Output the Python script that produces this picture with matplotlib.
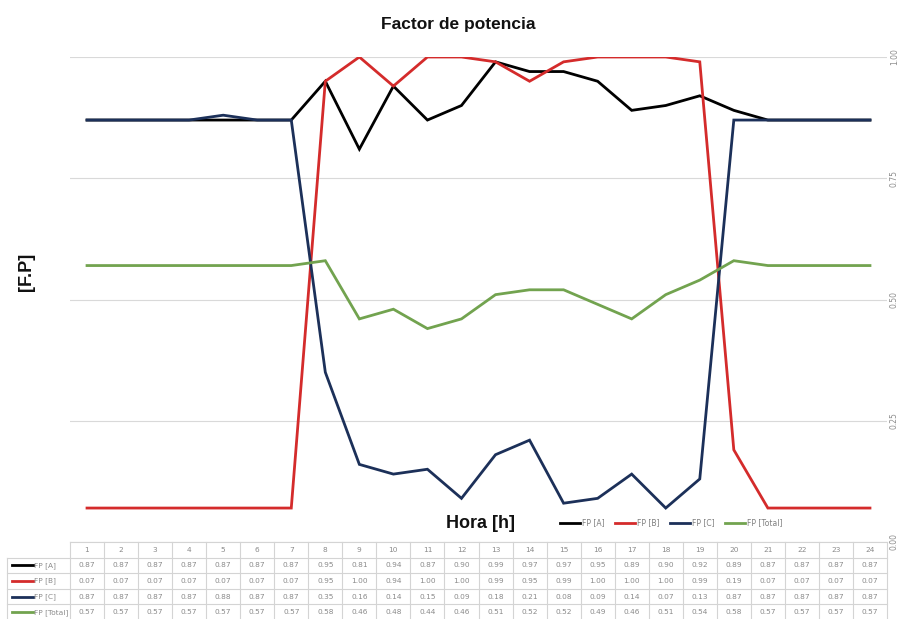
import matplotlib
matplotlib.use("Agg")
import matplotlib.pyplot as plt
from matplotlib.lines import Line2D

hours = list(range(1, 25))
fp_a = [0.87, 0.87, 0.87, 0.87, 0.87, 0.87, 0.87, 0.95, 0.81, 0.94, 0.87, 0.90,
        0.99, 0.97, 0.97, 0.95, 0.89, 0.90, 0.92, 0.89, 0.87, 0.87, 0.87, 0.87]
fp_b = [0.07, 0.07, 0.07, 0.07, 0.07, 0.07, 0.07, 0.95, 1.00, 0.94, 1.00, 1.00,
        0.99, 0.95, 0.99, 1.00, 1.00, 1.00, 0.99, 0.19, 0.07, 0.07, 0.07, 0.07]
fp_c = [0.87, 0.87, 0.87, 0.87, 0.88, 0.87, 0.87, 0.35, 0.16, 0.14, 0.15, 0.09,
        0.18, 0.21, 0.08, 0.09, 0.14, 0.07, 0.13, 0.87, 0.87, 0.87, 0.87, 0.87]
fp_total = [0.57, 0.57, 0.57, 0.57, 0.57, 0.57, 0.57, 0.58, 0.46, 0.48, 0.44, 0.46,
            0.51, 0.52, 0.52, 0.49, 0.46, 0.51, 0.54, 0.58, 0.57, 0.57, 0.57, 0.57]
series_names = ["FP [A]", "FP [B]", "FP [C]", "FP [Total]"]
series_colors = ["#000000", "#d42b2b", "#1c3059", "#72a34f"]
y_ticks = [0.00, 0.25, 0.50, 0.75, 1.00]

title = "Factor de potencia"
x_title = "Hora [h]"
y_title = "[F.P]"

W, H = 899, 619
fig = plt.figure(figsize=(W / 100, H / 100), dpi=100)
fig.patch.set_facecolor("white")

# plot area in pixel coordinates
px_left, px_right = 70, 887
px_top, px_bottom = 57, 542
row_h = 15.6
n_rows = 5


def fx(p):
    return p / W


def fy(p):
    return 1 - p / H


ax = fig.add_axes([fx(px_left), fy(px_bottom), fx(px_right - px_left),
                   (px_bottom - px_top) / H])
ax.set_xlim(0.5, 24.5)
ax.set_ylim(0, 1)
for s in ax.spines.values():
    s.set_visible(False)
ax.set_xticks([])
ax.set_yticks(y_ticks)
ax.yaxis.tick_right()
ax.set_yticklabels([f"{v:.2f}" for v in y_ticks])
ax.tick_params(axis="y", length=0, pad=2, labelsize=5.5, labelcolor="#8c8c8c",
               labelrotation=90)
for lab in ax.get_yticklabels():
    lab.set_verticalalignment("center")
ax.grid(axis="y", color="#d9d9d9", linewidth=0.8)
ax.set_axisbelow(True)

all_series = [fp_a, fp_b, fp_c, fp_total]
for vals, name, col in zip(all_series, series_names, series_colors):
    ax.plot(hours, vals, color=col, linewidth=2.0, label=name,
            solid_joinstyle="miter")

fig.text(fx(458), fy(25), title, ha="center", va="center", fontsize=12.5,
         fontweight="bold", family="Liberation Sans", color="#111111")
fig.text(fx(26), fy(272), y_title, ha="center", va="center", rotation=90,
         fontsize=13, fontweight="bold", family="Liberation Sans", color="#111111")
fig.text(fx(480), fy(523), x_title, ha="center", va="center", fontsize=13,
         fontweight="bold", family="Liberation Sans", color="#111111")

handles = [Line2D([], [], color=c, linewidth=2.0) for c in series_colors]
leg = fig.legend(handles, series_names, loc="center",
                 bbox_to_anchor=(fx(671), fy(523)), ncol=4, frameon=False,
                 fontsize=5.5, labelcolor="#7f7f7f", handlelength=2.6,
                 handletextpad=0.25, columnspacing=1.4,
                 prop={"family": "DejaVu Sans", "size": 5.5})

# data table under the plot
tab = fig.add_axes([fx(px_left), fy(px_bottom + n_rows * row_h),
                    fx(px_right - px_left), n_rows * row_h / H])
tab.set_xlim(0.5, 24.5)
tab.set_ylim(n_rows, 0)
tab.axis("off")

grid_col = "#d4d4d4"
text_col = "#8a8a8a"
units_per_px = 24 / (px_right - px_left)
lab_left = 0.5 - (px_left - 7) * units_per_px

# horizontal rules
tab.plot([0.5, 24.5], [0, 0], color=grid_col, lw=0.8, clip_on=False)
for r in range(1, n_rows + 1):
    tab.plot([lab_left, 24.5], [r, r], color=grid_col, lw=0.8, clip_on=False)
# vertical rules
for i in range(25):
    tab.plot([0.5 + i, 0.5 + i], [0, n_rows], color=grid_col, lw=0.8,
             clip_on=False)
tab.plot([lab_left, lab_left], [1, n_rows], color=grid_col, lw=0.8, clip_on=False)

tfont = dict(fontsize=5.3, color=text_col, family="DejaVu Sans",
             ha="center", va="center")
for h in hours:
    tab.text(h, 0.5, str(h), **tfont)
for r, (vals, name, col) in enumerate(zip(all_series, series_names, series_colors),
                                      start=1):
    for h, v in zip(hours, vals):
        tab.text(h, r + 0.5, f"{v:.2f}", **tfont)
    key_x0 = lab_left + 5 * units_per_px
    key_x1 = lab_left + 26 * units_per_px
    tab.plot([key_x0, key_x1], [r + 0.5, r + 0.5], color=col, lw=2.0,
             clip_on=False)
    tab.text(key_x1 + 0.5 * units_per_px, r + 0.5, name, fontsize=5.3,
             color=text_col, family="DejaVu Sans", ha="left", va="center")

fig.savefig("out.png", dpi=100, facecolor="white")
